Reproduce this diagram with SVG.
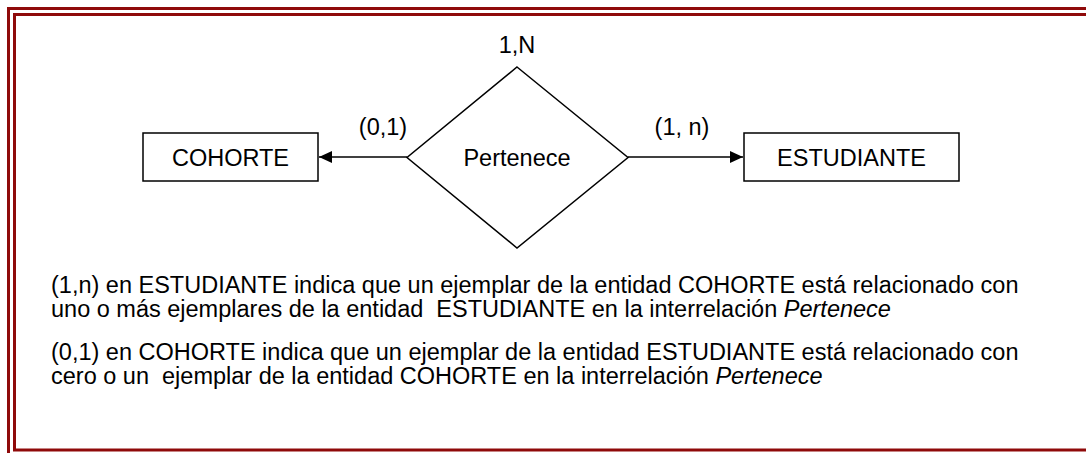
<svg xmlns="http://www.w3.org/2000/svg" width="1086" height="453" viewBox="0 0 1086 453">
<defs>
<style>
.frame{fill:none;stroke:#8f0a0a;stroke-width:3}
.box{fill:#fff;stroke:#000;stroke-width:1.5}
.t{font-family:"Liberation Sans",Arial,sans-serif;font-size:23.5px;fill:#000;white-space:pre}
.c{text-anchor:middle}
.ln{stroke:#000;stroke-width:1.5;fill:none}
</style>
<marker id="arr" markerWidth="14" markerHeight="12" refX="13" refY="6" orient="auto" markerUnits="userSpaceOnUse">
<path d="M0,0 L13,6 L0,12 z" fill="#000"/>
</marker>
</defs>
<rect class="frame" x="8.5" y="8.5" width="1090" height="460"/>
<rect class="frame" x="14.5" y="14.5" width="1090" height="435.5"/>
<g id="connectors">
<line class="ln" x1="407" y1="157" x2="319" y2="157" marker-end="url(#arr)"/>
<line class="ln" x1="628" y1="157" x2="743" y2="157" marker-end="url(#arr)"/>
</g>
<g id="cohorte">
<rect class="box" x="143" y="133" width="175" height="48"/>
<text class="t c" x="230.5" y="166">COHORTE</text>
</g>
<g id="estudiante">
<rect class="box" x="744" y="133" width="215" height="48"/>
<text class="t c" x="851.5" y="166">ESTUDIANTE</text>
</g>
<g id="pertenece">
<polygon class="box" points="517,67 628,157.5 517,248 407,157.5"/>
<text class="t c" x="517" y="166">Pertenece</text>
</g>
<g id="labels">
<text class="t c" x="517" y="53">1,N</text>
<text class="t c" x="383" y="135">(0,1)</text>
<text class="t c" x="682" y="135">(1, n)</text>
</g>
<g id="notes">
<text class="t" x="51" y="293">(1,n) en ESTUDIANTE indica que un ejemplar de la entidad COHORTE está relacionado con</text>
<text class="t" x="51" y="317">uno o más ejemplares de la entidad  ESTUDIANTE en la interrelación <tspan font-style="italic">Pertenece</tspan></text>
<text class="t" x="51" y="360">(0,1) en COHORTE indica que un ejemplar de la entidad ESTUDIANTE está relacionado con</text>
<text class="t" x="51" y="384">cero o un  ejemplar de la entidad COHORTE en la interrelación <tspan font-style="italic">Pertenece</tspan></text>
</g>
</svg>
